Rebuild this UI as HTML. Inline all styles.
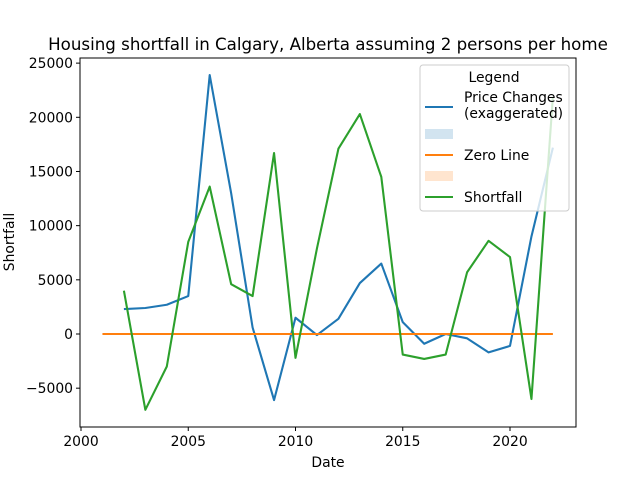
<!DOCTYPE html>
<html><head><meta charset="utf-8"><style>body{margin:0;background:#fff}svg text{font-family:"DejaVu Sans","Liberation Sans",sans-serif}</style></head>
<body>
<svg id="chart" width="640" height="480" xmlns="http://www.w3.org/2000/svg">
<rect width="640" height="480" fill="#fff"/>
<text x="328" y="50" font-size="16.67" text-anchor="middle">Housing shortfall in Calgary, Alberta assuming 2 persons per home</text>
<g id="plot"></g>
<rect x="80" y="58" width="496" height="369" fill="none" stroke="#000" stroke-width="1"/>
<text x="328" y="467" font-size="13.9" text-anchor="middle">Date</text>
<text transform="translate(14,242) rotate(-90)" font-size="13.9" text-anchor="middle">Shortfall</text>
<g>
<rect x="420" y="65" width="149" height="146" rx="3" fill="#fff" fill-opacity="0.8" stroke="#ccc"/>
<text x="494" y="82" font-size="13.9" text-anchor="middle">Legend</text>
<line x1="425" y1="107" x2="453" y2="107" stroke="#1f77b4" stroke-width="2.1"/>
<text x="464" y="102" font-size="13.9">Price Changes</text>
<text x="464" y="118" font-size="13.9">(exaggerated)</text>
<rect x="425" y="129" width="28" height="10" fill="#1f77b4" fill-opacity="0.2"/>
<line x1="425" y1="155" x2="453" y2="155" stroke="#ff7f0e" stroke-width="2.1"/>
<text x="464" y="160" font-size="13.9">Zero Line</text>
<rect x="425" y="171" width="28" height="10" fill="#ff7f0e" fill-opacity="0.2"/>
<line x1="425" y1="197" x2="453" y2="197" stroke="#2ca02c" stroke-width="2.1"/>
<text x="464" y="202" font-size="13.9">Shortfall</text>
</g>
</svg>
<script>
const years=[2002,2003,2004,2005,2006,2007,2008,2009,2010,2011,2012,2013,2014,2015,2016,2017,2018,2019,2020,2021,2022];
const priceChanges=[2300,2400,2700,3500,23900,13000,600,-6100,1500,-100,1400,4700,6500,1100,-900,0,-400,-1700,-1100,9000,17200];
const shortfall=[4000,-7000,-3000,8500,13600,4600,3500,16700,-2200,7900,17100,20300,14500,-1900,-2300,-1900,5700,8600,7100,-6000,21900];
const zeroYears=[2001,2022];
const zeroValues=[0,0];
const xTicks=[2000,2005,2010,2015,2020];
const yTicks=[-5000,0,5000,10000,15000,20000,25000];
const NS="http://www.w3.org/2000/svg";
const sx=v=>81+(v-2000)*21.45;
const sy=v=>334-v*0.010835;
const g=document.getElementById('plot');
function mk(t,a){const e=document.createElementNS(NS,t);for(const k in a)e.setAttribute(k,a[k]);g.appendChild(e);return e;}
xTicks.forEach(t=>{
 const l=mk('line',{x1:sx(t),x2:sx(t),y1:427,y2:431,stroke:'#000'});
 
 
 const tx=mk('text',{x:sx(t),y:446,'font-size':13.9,'text-anchor':'middle'});tx.textContent=t;
 
 
});
yTicks.forEach(t=>{
 const l=mk('line',{x1:76,x2:80,y1:sy(t),y2:sy(t),stroke:'#000'});
 
 
 const tx=mk('text',{x:73,y:sy(t)+5,'font-size':13.9,'text-anchor':'end'});tx.textContent=t<0?'\u2212'+(-t):t;
 
 
});
function line(xs,ys,c,name){
 const p=mk('polyline',{points:xs.map((x,i)=>sx(x)+','+sy(ys[i])).join(' '),fill:'none',stroke:c,'stroke-width':2.1,'stroke-linejoin':'round'});
 
 
}
line(years,priceChanges,'#1f77b4','price-changes-line');
line(zeroYears,zeroValues,'#ff7f0e','zero-line');
line(years,shortfall,'#2ca02c','shortfall-line');
</script>
</body></html>
